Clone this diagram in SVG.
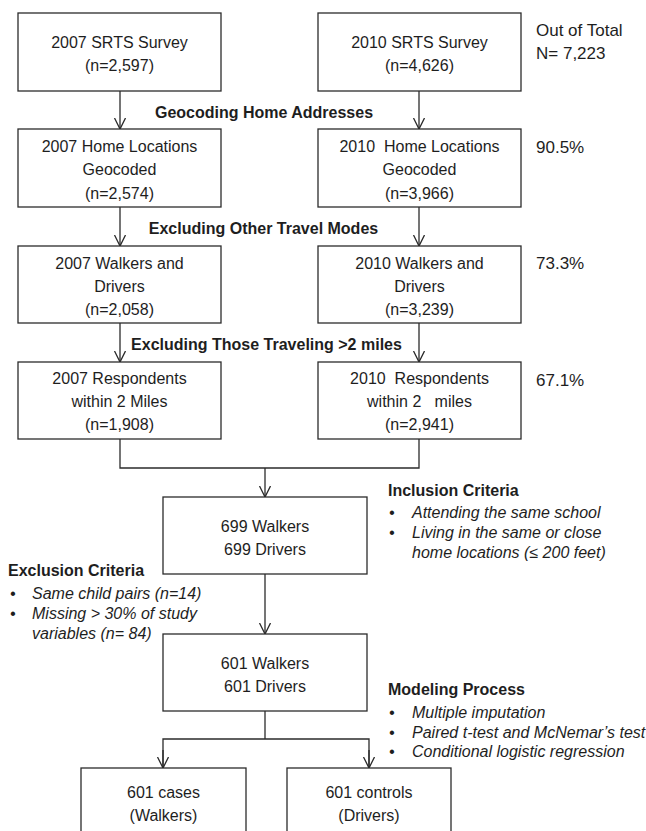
<svg xmlns="http://www.w3.org/2000/svg" width="646" height="831" viewBox="0 0 646 831">
<style>
.box{fill:#fff;stroke:#2b2b2b;stroke-width:1.3}
.t{font-family:"Liberation Sans",Arial,sans-serif;font-size:16px;fill:#1e1e1e;text-anchor:middle}
.r{font-family:"Liberation Sans",Arial,sans-serif;font-size:17px;fill:#1e1e1e}
.b{font-family:"Liberation Sans",Arial,sans-serif;font-size:16px;font-weight:bold;fill:#1e1e1e}
.i{font-family:"Liberation Sans",Arial,sans-serif;font-size:16px;font-style:italic;fill:#1e1e1e}
.c{fill:none;stroke:#2b2b2b;stroke-width:1.3}
</style>
<defs>
<marker id="ah" markerWidth="14" markerHeight="14" refX="11" refY="6" orient="auto" markerUnits="userSpaceOnUse">
<path d="M0,0.5 L11,6 L0,11.5" fill="none" stroke="#2b2b2b" stroke-width="1.3"/>
</marker>
</defs>
<g id="connectors">
<line class="c" x1="120" y1="91" x2="120" y2="129" marker-end="url(#ah)"/>
<line class="c" x1="419" y1="91" x2="419" y2="129" marker-end="url(#ah)"/>
<line class="c" x1="120" y1="207" x2="120" y2="246" marker-end="url(#ah)"/>
<line class="c" x1="419" y1="207" x2="419" y2="246" marker-end="url(#ah)"/>
<line class="c" x1="120" y1="323" x2="120" y2="362" marker-end="url(#ah)"/>
<line class="c" x1="419" y1="323" x2="419" y2="362" marker-end="url(#ah)"/>
<polyline class="c" points="120,439 120,468 419,468 419,439"/>
<line class="c" x1="265" y1="468" x2="265" y2="497" marker-end="url(#ah)"/>
<line class="c" x1="265" y1="574" x2="265" y2="634" marker-end="url(#ah)"/>
<line class="c" x1="265" y1="711" x2="265" y2="739"/>
<polyline class="c" points="163,768 163,739 369,739 369,768"/>
<line class="c" x1="163" y1="750" x2="163" y2="768" marker-end="url(#ah)"/>
<line class="c" x1="369" y1="750" x2="369" y2="768" marker-end="url(#ah)"/>
</g>
<g id="n2007survey"><rect class="box" x="18" y="13" width="203" height="78"/><text class="t" x="119.5" y="48">2007 SRTS Survey</text><text class="t" x="119.5" y="71">(n=2,597)</text></g>
<g id="n2010survey"><rect class="box" x="318" y="13" width="203" height="78"/><text class="t" x="419.5" y="48">2010 SRTS Survey</text><text class="t" x="419.5" y="71">(n=4,626)</text></g>
<g id="n2007geo"><rect class="box" x="18" y="129" width="203" height="78"/><text class="t" x="119.5" y="152">2007 Home Locations</text><text class="t" x="119.5" y="175">Geocoded</text><text class="t" x="119.5" y="199">(n=2,574)</text></g>
<g id="n2010geo"><rect class="box" x="318" y="129" width="203" height="78"/><text class="t" x="419.5" y="152" xml:space="preserve">2010  Home Locations</text><text class="t" x="419.5" y="175">Geocoded</text><text class="t" x="419.5" y="199">(n=3,966)</text></g>
<g id="n2007wd"><rect class="box" x="18" y="246" width="203" height="77"/><text class="t" x="119.5" y="269">2007 Walkers and</text><text class="t" x="119.5" y="292">Drivers</text><text class="t" x="119.5" y="315">(n=2,058)</text></g>
<g id="n2010wd"><rect class="box" x="318" y="246" width="203" height="77"/><text class="t" x="419.5" y="269">2010 Walkers and</text><text class="t" x="419.5" y="292">Drivers</text><text class="t" x="419.5" y="315">(n=3,239)</text></g>
<g id="n2007resp"><rect class="box" x="18" y="362" width="203" height="77"/><text class="t" x="119.5" y="384">2007 Respondents</text><text class="t" x="119.5" y="407">within 2 Miles</text><text class="t" x="119.5" y="430">(n=1,908)</text></g>
<g id="n2010resp"><rect class="box" x="318" y="362" width="203" height="77"/><text class="t" x="419.5" y="384" xml:space="preserve">2010  Respondents</text><text class="t" x="419.5" y="407" xml:space="preserve">within 2   miles</text><text class="t" x="419.5" y="430">(n=2,941)</text></g>
<g id="n699"><rect class="box" x="163" y="497" width="204" height="77"/><text class="t" x="265" y="532">699 Walkers</text><text class="t" x="265" y="555">699 Drivers</text></g>
<g id="n601"><rect class="box" x="163" y="634" width="204" height="77"/><text class="t" x="265" y="669">601 Walkers</text><text class="t" x="265" y="692">601 Drivers</text></g>
<g id="ncases"><rect class="box" x="81" y="768" width="165" height="80"/><text class="t" x="163.5" y="798">601 cases</text><text class="t" x="163.5" y="821">(Walkers)</text></g>
<g id="ncontrols"><rect class="box" x="287" y="768" width="164" height="80"/><text class="t" x="369" y="798">601 controls</text><text class="t" x="369" y="821">(Drivers)</text></g>
<g id="labels">
<text class="r" x="536" y="36">Out of Total</text>
<text class="r" x="536" y="59">N= 7,223</text>
<text class="r" x="536" y="153">90.5%</text>
<text class="r" x="536" y="269">73.3%</text>
<text class="r" x="536" y="386">67.1%</text>
<text class="b" x="264" y="118" text-anchor="middle">Geocoding Home Addresses</text>
<text class="b" x="263.5" y="234" text-anchor="middle">Excluding Other Travel Modes</text>
<text class="b" x="266.5" y="350" text-anchor="middle">Excluding Those Traveling &gt;2 miles</text>
</g>
<g id="inclusion">
<text class="b" x="388" y="496">Inclusion Criteria</text>
<text class="i" x="389" y="518">•</text><text class="i" x="412" y="518">Attending the same school</text>
<text class="i" x="389" y="538">•</text><text class="i" x="412" y="538">Living in the same or close</text>
<text class="i" x="412" y="558">home locations (≤ 200 feet)</text>
</g>
<g id="exclusion">
<text class="b" x="8" y="576">Exclusion Criteria</text>
<text class="i" x="10" y="599">•</text><text class="i" x="32" y="599">Same child pairs (n=14)</text>
<text class="i" x="10" y="619">•</text><text class="i" x="32" y="619">Missing &gt; 30% of study</text>
<text class="i" x="32" y="639">variables (n= 84)</text>
</g>
<g id="modeling">
<text class="b" x="388" y="695">Modeling Process</text>
<text class="i" x="389" y="718">•</text><text class="i" x="412" y="718">Multiple imputation</text>
<text class="i" x="389" y="738">•</text><text class="i" x="412" y="738">Paired t-test and McNemar’s test</text>
<text class="i" x="389" y="757">•</text><text class="i" x="412" y="757">Conditional logistic regression</text>
</g>
</svg>
